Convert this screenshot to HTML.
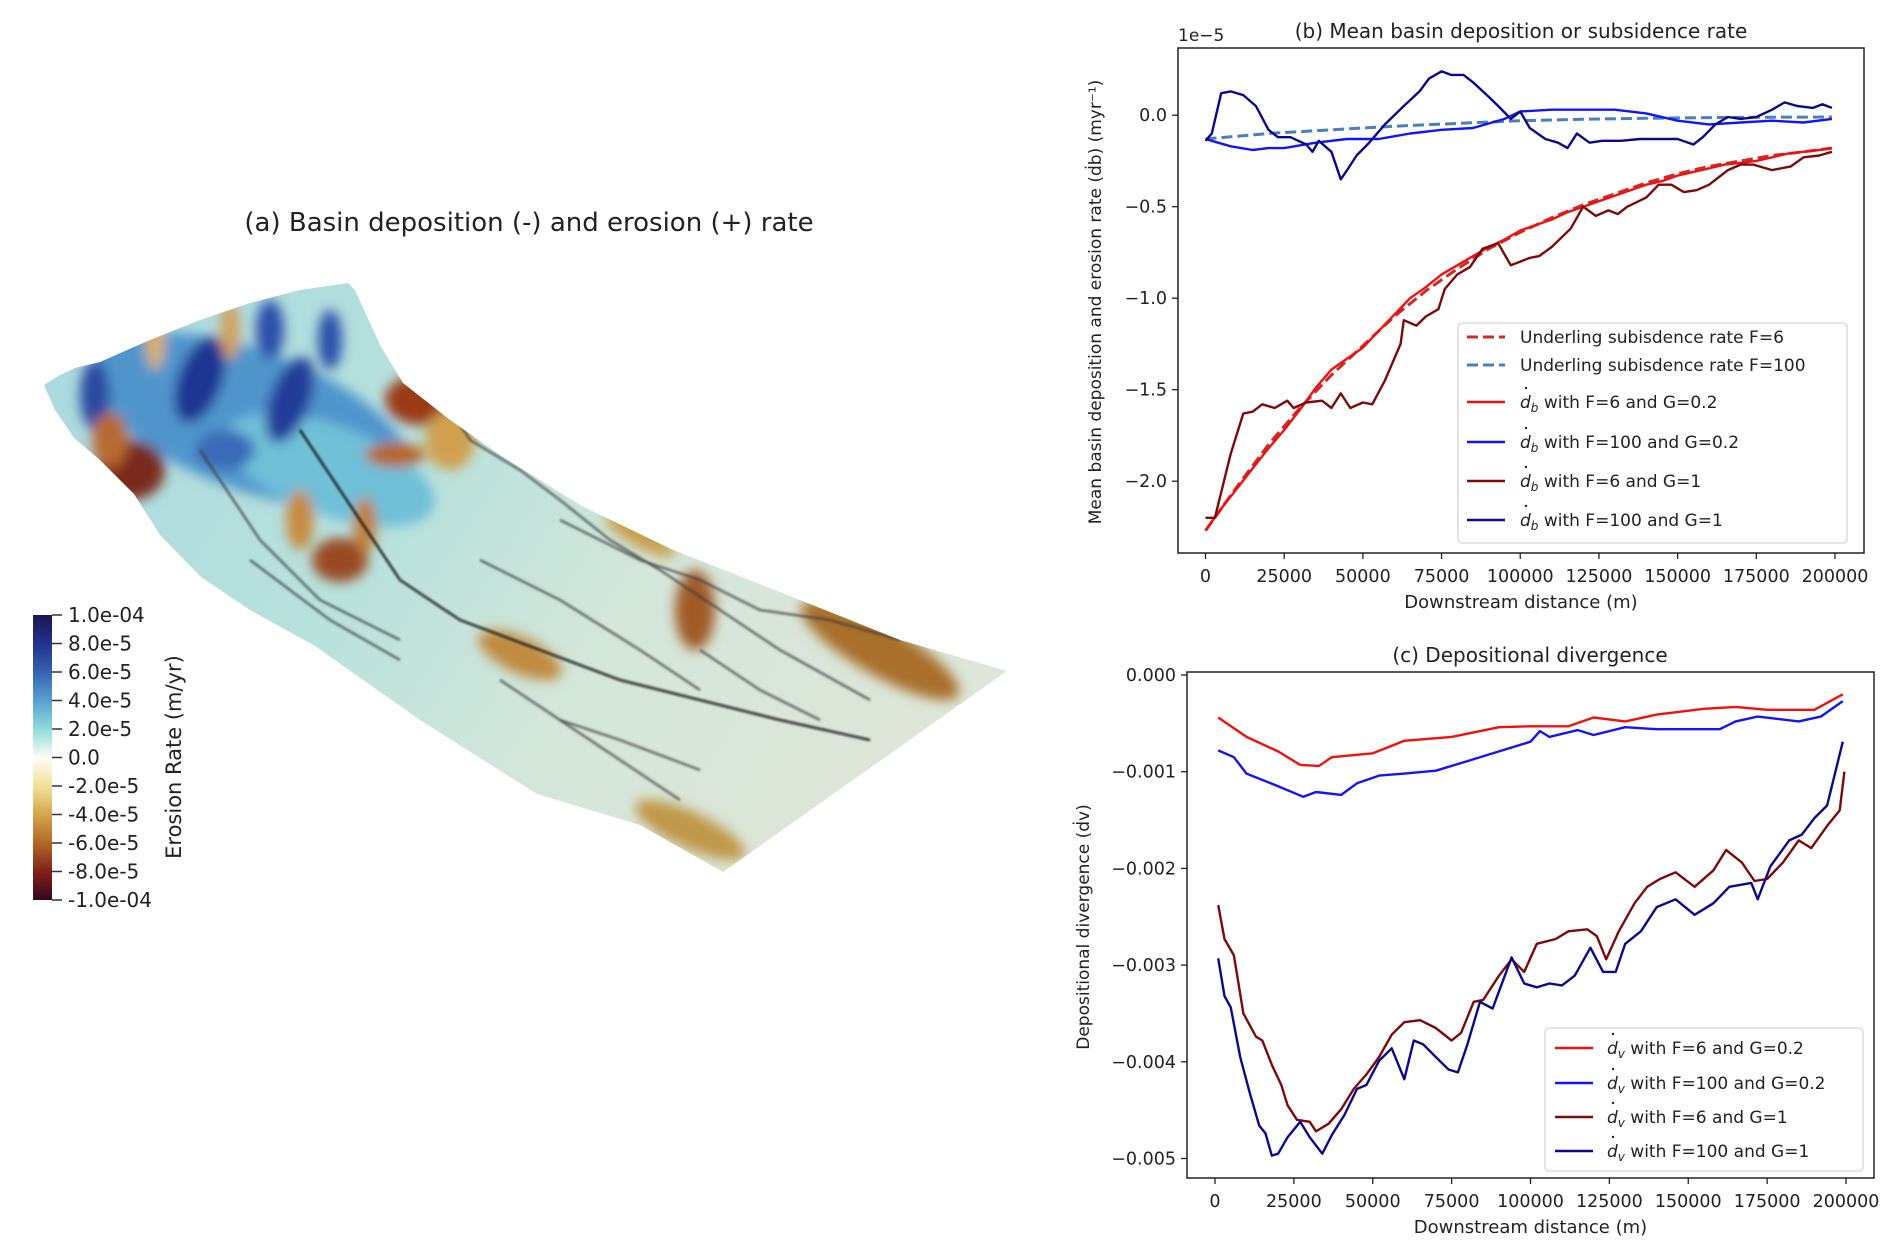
<!DOCTYPE html>
<html><head><meta charset="utf-8"><style>
html,body{margin:0;padding:0;background:#fff;}
svg{display:block;font-family:"DejaVu Sans","Liberation Sans",sans-serif;}
</style></head><body>
<svg id="fig" width="1892" height="1253" viewBox="0 0 1892 1253" xmlns="http://www.w3.org/2000/svg">
<defs>
<filter id="blur6" x="-50%" y="-50%" width="200%" height="200%"><feGaussianBlur stdDeviation="6"/></filter>
<filter id="blur2"><feGaussianBlur stdDeviation="1"/></filter>
<clipPath id="surfClip"><path id="surfPath" d="M44,385 L60,375 75,368 100,362 150,340 200,320 250,303 300,290 348,283 355,290 366,314 380,345 403,383 450,420 503,457 580,505 671,549 800,600 900,640 1007,671 723,872 640,825 537,794 420,720 315,646 250,610 201,577 160,535 134,494 100,460 74,438 55,410 Z"/></clipPath>
<linearGradient id="cbar" x1="0" y1="0" x2="0" y2="1">
<stop offset="0" stop-color="#1c1450"/><stop offset="0.1" stop-color="#23318f"/><stop offset="0.2" stop-color="#3562b0"/><stop offset="0.3" stop-color="#5b9fd0"/><stop offset="0.4" stop-color="#8fdcd8"/><stop offset="0.5" stop-color="#fdfdf6"/><stop offset="0.6" stop-color="#f0e29a"/><stop offset="0.7" stop-color="#d4a64a"/><stop offset="0.8" stop-color="#b06828"/><stop offset="0.9" stop-color="#822018"/><stop offset="1" stop-color="#35081a"/>
</linearGradient>
<linearGradient id="surfBase" x1="0" y1="0" x2="1" y2="0.4">
<stop offset="0" stop-color="#a9d8e0"/><stop offset="0.45" stop-color="#b8e2dc"/><stop offset="0.7" stop-color="#d3e6da"/><stop offset="1" stop-color="#dde6d8"/>
</linearGradient>
</defs>

<!-- Panel (a) -->
<text x="529" y="231" font-size="26" text-anchor="middle" fill="#222">(a) Basin deposition (-) and erosion (+) rate</text>
<g clip-path="url(#surfClip)">
<rect x="40" y="280" width="980" height="600" fill="url(#surfBase)"/>
<g filter="url(#blur6)">
<ellipse cx="250" cy="420" rx="170" ry="70" fill="#4f95cc" transform="rotate(20 250 420)"/>
<ellipse cx="330" cy="470" rx="110" ry="45" fill="#6fc0d8" transform="rotate(20 330 470)"/>
<ellipse cx="200" cy="380" rx="22" ry="45" fill="#1e3590" transform="rotate(20 200 380)"/>
<ellipse cx="290" cy="400" rx="20" ry="45" fill="#233c98" transform="rotate(20 290 400)"/>
<ellipse cx="95" cy="395" rx="15" ry="35" fill="#2a4aa0"/>
<ellipse cx="270" cy="330" rx="14" ry="30" fill="#2a50a8"/>
<ellipse cx="330" cy="340" rx="12" ry="30" fill="#2a50a8"/>
<ellipse cx="225" cy="450" rx="30" ry="20" fill="#3a6ab8"/>
<ellipse cx="130" cy="470" rx="35" ry="30" fill="#7a2a1a"/>
<ellipse cx="110" cy="440" rx="18" ry="28" fill="#b86a30"/>
<ellipse cx="155" cy="340" rx="10" ry="30" fill="#d8b070"/>
<ellipse cx="230" cy="330" rx="10" ry="30" fill="#d2a060"/>
<ellipse cx="420" cy="400" rx="35" ry="25" fill="#9a3a18"/>
<ellipse cx="450" cy="440" rx="25" ry="30" fill="#d0a050"/>
<ellipse cx="395" cy="455" rx="30" ry="12" fill="#b8641e"/>
<ellipse cx="340" cy="560" rx="28" ry="22" fill="#9a4a20"/>
<ellipse cx="300" cy="520" rx="14" ry="30" fill="#c88a40"/>
<ellipse cx="365" cy="525" rx="12" ry="28" fill="#c08040"/>
<ellipse cx="520" cy="655" rx="45" ry="18" fill="#c08a40" transform="rotate(25 520 655)"/>
<ellipse cx="695" cy="610" rx="20" ry="40" fill="#a05a28"/>
<ellipse cx="880" cy="650" rx="90" ry="25" fill="#a8702a" transform="rotate(30 880 650)"/>
<ellipse cx="690" cy="830" rx="60" ry="18" fill="#c09848" transform="rotate(25 690 830)"/>
<ellipse cx="640" cy="535" rx="40" ry="12" fill="#c8a050" transform="rotate(30 640 535)"/>
</g>
<g fill="none" stroke="#3a3a3a" stroke-width="2.5" stroke-opacity="0.7" filter="url(#blur2)">
<path d="M430,380 L470,440 520,470 560,500 610,540 660,570 720,610 780,650 870,700"/>
<path d="M300,430 L360,520 400,580 460,620 540,650 620,680 700,700 780,720 870,740" stroke="#111" stroke-opacity="0.85"/>
<path d="M560,520 L640,560 700,580 760,610 830,620 900,640"/>
<path d="M200,450 L260,540 320,600 400,640"/>
<path d="M480,560 L560,600 640,650 700,690"/>
<path d="M250,560 L330,620 400,660"/>
<path d="M500,680 L560,720 620,760 680,800"/>
<path d="M560,720 L620,740 700,770"/>
<path d="M700,650 L760,690 820,720"/>
</g>
</g>
<rect x="33" y="615" width="19" height="285" fill="url(#cbar)"/>
<g id="cbTicks" font-size="20" fill="#222"></g>
<text transform="translate(181,757) rotate(-90)" font-size="21" text-anchor="middle" fill="#222">Erosion Rate (m/yr)</text>

<g id="chartB"></g>
<g id="chartC"></g>
</svg>
<script>
const NS='http://www.w3.org/2000/svg';
const cbLabels=['1.0e-04','8.0e-5','6.0e-5','4.0e-5','2.0e-5','0.0','-2.0e-5','-4.0e-5','-6.0e-5','-8.0e-5','-1.0e-04'];
// chart b data (x in m, y in 1e-5 m/yr)
const bXTicks=[0,25000,50000,75000,100000,125000,150000,175000,200000];
const bYTicks=[0.0,-0.5,-1.0,-1.5,-2.0];
const bYTickLabels=['0.0','\u22120.5','\u22121.0','\u22121.5','\u22122.0'];
const bSubsF6=[[0,-2.27],[10000,-2.03],[20000,-1.8],[30000,-1.6],[40000,-1.42],[50000,-1.26],[60000,-1.1],[70000,-0.96],[80000,-0.84],[90000,-0.73],[100000,-0.64],[110000,-0.56],[120000,-0.49],[130000,-0.43],[140000,-0.37],[150000,-0.32],[160000,-0.28],[170000,-0.25],[180000,-0.22],[190000,-0.2],[199000,-0.18]];
const bSubsF100=[[0,-0.13],[20000,-0.1],[40000,-0.08],[60000,-0.06],[80000,-0.045],[100000,-0.03],[120000,-0.022],[140000,-0.017],[160000,-0.013],[180000,-0.011],[199000,-0.01]];
const bF6G02=[[0,-2.27],[5000,-2.15],[10000,-2.04],[15000,-1.93],[20000,-1.82],[25000,-1.72],[30000,-1.61],[35000,-1.49],[40000,-1.39],[45000,-1.33],[50000,-1.27],[55000,-1.18],[60000,-1.09],[65000,-1.0],[70000,-0.94],[75000,-0.87],[80000,-0.82],[85000,-0.77],[90000,-0.72],[95000,-0.68],[100000,-0.63],[105000,-0.6],[110000,-0.57],[115000,-0.53],[120000,-0.5],[125000,-0.47],[130000,-0.44],[135000,-0.41],[140000,-0.38],[145000,-0.36],[150000,-0.33],[155000,-0.31],[160000,-0.29],[165000,-0.27],[170000,-0.26],[175000,-0.25],[180000,-0.23],[185000,-0.21],[190000,-0.2],[195000,-0.19],[199000,-0.18]];
const bF100G02=[[0,-0.13],[4000,-0.15],[8000,-0.17],[15000,-0.19],[20000,-0.18],[25000,-0.18],[35000,-0.15],[45000,-0.13],[55000,-0.13],[65000,-0.1],[75000,-0.08],[85000,-0.07],[95000,-0.02],[100000,0.02],[110000,0.03],[120000,0.03],[130000,0.03],[140000,0.01],[150000,-0.03],[160000,-0.05],[170000,-0.04],[180000,-0.03],[190000,-0.04],[199000,-0.02]];
const bF6G1=[[0,-2.2],[3000,-2.2],[8000,-1.85],[12000,-1.63],[15000,-1.62],[18000,-1.58],[22000,-1.6],[26000,-1.56],[28000,-1.6],[32000,-1.57],[37000,-1.56],[40000,-1.6],[43000,-1.52],[46000,-1.6],[50000,-1.57],[53000,-1.58],[57000,-1.45],[62000,-1.25],[63000,-1.12],[67000,-1.15],[70000,-1.1],[74000,-1.06],[76000,-0.95],[80000,-0.87],[84000,-0.83],[88000,-0.73],[93000,-0.7],[97000,-0.82],[100000,-0.8],[103000,-0.78],[106000,-0.77],[110000,-0.72],[116000,-0.62],[120000,-0.5],[124000,-0.55],[128000,-0.52],[131000,-0.54],[134000,-0.5],[140000,-0.45],[144000,-0.38],[148000,-0.38],[152000,-0.42],[156000,-0.41],[160000,-0.38],[166000,-0.3],[170000,-0.27],[174000,-0.27],[180000,-0.3],[186000,-0.28],[190000,-0.23],[195000,-0.22],[199000,-0.2]];
const bF100G1=[[0,-0.14],[2000,-0.1],[5000,0.12],[8000,0.13],[12000,0.11],[16000,0.05],[20000,-0.08],[23000,-0.12],[27000,-0.12],[32000,-0.16],[34000,-0.2],[36000,-0.14],[40000,-0.2],[43000,-0.35],[45000,-0.3],[48000,-0.22],[52000,-0.15],[57000,-0.05],[63000,0.05],[68000,0.13],[71000,0.2],[75000,0.24],[78000,0.22],[82000,0.22],[85000,0.18],[90000,0.1],[93000,0.05],[97000,-0.02],[100000,0.02],[103000,-0.07],[108000,-0.13],[112000,-0.15],[115000,-0.18],[118000,-0.1],[122000,-0.15],[126000,-0.14],[132000,-0.14],[138000,-0.13],[145000,-0.13],[150000,-0.13],[155000,-0.16],[158000,-0.12],[162000,-0.05],[166000,-0.01],[170000,-0.02],[175000,-0.01],[180000,0.03],[184000,0.07],[188000,0.05],[193000,0.04],[196000,0.06],[199000,0.04]];
// chart c data
const cXTicks=[0,25000,50000,75000,100000,125000,150000,175000,200000];
const cYTicks=[0,-0.001,-0.002,-0.003,-0.004,-0.005];
const cYTickLabels=['0.000','\u22120.001','\u22120.002','\u22120.003','\u22120.004','\u22120.005'];
const cF6G02=[[1000,-0.00044],[10000,-0.00064],[20000,-0.00079],[27000,-0.00093],[33000,-0.00094],[37000,-0.00085],[50000,-0.00081],[60000,-0.00068],[75000,-0.00064],[90000,-0.00054],[100000,-0.00053],[112000,-0.00053],[120000,-0.00044],[130000,-0.00048],[140000,-0.00041],[155000,-0.00035],[165000,-0.00033],[175000,-0.00036],[190000,-0.00036],[199000,-0.0002]];
const cF100G02=[[1000,-0.00078],[6000,-0.00085],[10000,-0.00102],[20000,-0.00115],[28000,-0.00126],[32000,-0.00121],[40000,-0.00124],[45000,-0.00112],[52000,-0.00104],[60000,-0.00102],[70000,-0.00099],[80000,-0.00089],[90000,-0.00079],[100000,-0.00069],[103000,-0.00058],[106000,-0.00064],[115000,-0.00057],[120000,-0.00062],[130000,-0.00054],[140000,-0.00056],[150000,-0.00056],[160000,-0.00056],[165000,-0.00048],[172000,-0.00043],[185000,-0.00048],[192000,-0.00043],[199000,-0.00027]];
const cF6G1=[[1000,-0.00238],[3000,-0.00273],[6000,-0.0029],[9000,-0.0035],[13000,-0.00374],[15000,-0.00378],[18000,-0.00403],[21000,-0.00424],[23000,-0.00445],[26000,-0.0046],[30000,-0.00462],[32000,-0.00472],[36000,-0.00464],[40000,-0.00449],[44000,-0.00428],[48000,-0.00413],[52000,-0.00395],[56000,-0.00372],[60000,-0.00359],[65000,-0.00357],[70000,-0.00365],[75000,-0.00378],[78000,-0.0037],[82000,-0.00338],[85000,-0.00336],[90000,-0.00311],[94000,-0.00294],[98000,-0.00307],[102000,-0.00278],[108000,-0.00273],[112000,-0.00265],[118000,-0.00263],[121000,-0.0027],[124000,-0.00294],[128000,-0.00265],[133000,-0.00236],[137000,-0.00219],[141000,-0.00211],[146000,-0.00204],[152000,-0.00219],[158000,-0.00202],[162000,-0.00181],[167000,-0.00194],[171000,-0.00213],[175000,-0.00211],[180000,-0.00194],[185000,-0.00171],[189000,-0.00179],[194000,-0.00156],[198000,-0.0014],[199500,-0.001]];
const cF100G1=[[1000,-0.00293],[3000,-0.00332],[5000,-0.00344],[8000,-0.00395],[11000,-0.00432],[14000,-0.00466],[16000,-0.00474],[18000,-0.00497],[20000,-0.00495],[23000,-0.00478],[27000,-0.00462],[30000,-0.00478],[34000,-0.00495],[37000,-0.00476],[41000,-0.00455],[45000,-0.00428],[48000,-0.00424],[52000,-0.00399],[56000,-0.00386],[60000,-0.00418],[63000,-0.00378],[66000,-0.00382],[70000,-0.00395],[74000,-0.00408],[77000,-0.00411],[80000,-0.00382],[84000,-0.00338],[88000,-0.00345],[94000,-0.00292],[98000,-0.00319],[102000,-0.00323],[106000,-0.00319],[110000,-0.00321],[114000,-0.00311],[119000,-0.00282],[123000,-0.00307],[127000,-0.00307],[130000,-0.00278],[135000,-0.00265],[140000,-0.0024],[146000,-0.00232],[152000,-0.00248],[158000,-0.00236],[163000,-0.00219],[170000,-0.00215],[172000,-0.00232],[176000,-0.00198],[182000,-0.00171],[186000,-0.00165],[190000,-0.00148],[194000,-0.00135],[199000,-0.00069]];

function mk(tag,attrs,parent,text){const e=document.createElementNS(NS,tag);for(const k in attrs)e.setAttribute(k,attrs[k]);if(text!==undefined)e.textContent=text;parent.appendChild(e);return e;}

const cbG=document.getElementById('cbTicks');
cbLabels.forEach((l,i)=>{const y=615+i*28.5;
 const t=mk('line',{x1:52,x2:62,y1:y,y2:y,stroke:'#333','stroke-width':1.5},cbG);
 
 
 const tx=mk('text',{x:68,y:y+7},cbG,l);
 
 
});

function drawChart(g,cfg){
 const xs=v=>cfg.x0+(v/200000)*(cfg.x1-cfg.x0);
 const ys=v=>cfg.yz-v*cfg.yk;
 const clipId=cfg.id+'clip';
 const defs=mk('defs',{},g);const cp=mk('clipPath',{id:clipId},defs);
 mk('rect',{x:cfg.L,y:cfg.T,width:cfg.R-cfg.L,height:cfg.B-cfg.T},cp);
 const lg=mk('g',{'clip-path':'url(#'+clipId+')'},g);
 cfg.series.forEach(s=>{
  const d=s.data.map((p,i)=>(i?'L':'M')+xs(p[0]).toFixed(1)+','+ys(p[1]).toFixed(1)).join(' ');
  const p=mk('path',{d:d,fill:'none',stroke:s.color,'stroke-width':s.dash?3:2.4,'stroke-dasharray':s.dash?'11,5':'none','stroke-linejoin':'round'},lg);
  
  
 });
 const fr=mk('rect',{x:cfg.L,y:cfg.T,width:cfg.R-cfg.L,height:cfg.B-cfg.T,fill:'none',stroke:'#222','stroke-width':1.5},g);
 
 
 cfg.xt.forEach(v=>{const x=xs(v);
  mk('line',{x1:x,x2:x,y1:cfg.B,y2:cfg.B+6,stroke:'#222','stroke-width':1.3},g);
  const t=mk('text',{x:x,y:cfg.B+29,'font-size':17.5,'text-anchor':'middle',fill:'#222'},g,String(v));
  
  
 });
 cfg.yt.forEach((v,i)=>{const y=ys(v);
  mk('line',{x1:cfg.L-6,x2:cfg.L,y1:y,y2:y,stroke:'#222','stroke-width':1.3},g);
  const t=mk('text',{x:cfg.L-11,y:y+6,'font-size':17.5,'text-anchor':'end',fill:'#222'},g,cfg.ytl[i]);
  
  
 });
 const xl=mk('text',{x:(cfg.L+cfg.R)/2,y:cfg.B+55,'font-size':18,'text-anchor':'middle',fill:'#222'},g,'Downstream distance (m)');
 
 
 const ti=mk('text',{x:cfg.titleX,y:cfg.T-10,'font-size':20,'text-anchor':'middle',fill:'#222'},g,cfg.title);
 
 
 const lgd=mk('rect',{x:cfg.lg.x,y:cfg.lg.y,width:cfg.lg.w,height:cfg.lg.h,rx:4,fill:'#fff','fill-opacity':0.85,stroke:'#d6d6d6','stroke-width':1.3},g);
 
 
 cfg.series.forEach((s,i)=>{const y=cfg.lg.rows[i];
  mk('line',{x1:cfg.lg.hx,x2:cfg.lg.hx+38,y1:y,y2:y,stroke:s.color,'stroke-width':s.dash?3:2.4,'stroke-dasharray':s.dash?'11,5':'none'},g);
  const t=mk('text',{x:cfg.lg.tx,y:y+6,'font-size':17,fill:'#222'},g);
  
  
  if(s.sym){
   mk('tspan',{'font-style':'italic'},t,'d');
   mk('tspan',{'font-style':'italic','font-size':12,dy:4},t,s.sym);
   mk('tspan',{dy:-4},t,' '+s.label);
   mk('circle',{cx:cfg.lg.tx+6,cy:y-14,r:1.2,fill:'#222'},g);
  } else t.textContent=s.label;
 });
}

drawChart(document.getElementById('chartB'),{id:'b',L:1178,R:1864,T:48,B:553,x0:1205.5,x1:1835,yz:115.2,yk:183,
 xt:bXTicks,yt:bYTicks,ytl:bYTickLabels,title:'(b) Mean basin deposition or subsidence rate',titleX:1521,
 lg:{x:1458,y:323,w:389,h:220,hx:1467,tx:1520,rows:[337,365,402,442,481,520]},
 series:[
  {name:'subsidence-f6-dashed',data:bSubsF6,color:'#cc2b2b',dash:true,label:'Underling subisdence rate F=6'},
  {name:'subsidence-f100-dashed',data:bSubsF100,color:'#4a7fb8',dash:true,label:'Underling subisdence rate F=100'},
  {name:'db-f6-g02',data:bF6G02,color:'#f01010',sym:'b',label:'with F=6 and G=0.2'},
  {name:'db-f100-g02',data:bF100G02,color:'#1414f5',sym:'b',label:'with F=100 and G=0.2'},
  {name:'db-f6-g1',data:bF6G1,color:'#7d0a0a',sym:'b',label:'with F=6 and G=1'},
  {name:'db-f100-g1',data:bF100G1,color:'#0a0a8a',sym:'b',label:'with F=100 and G=1'}
 ]});
drawChart(document.getElementById('chartC'),{id:'c',L:1187,R:1874,T:672,B:1178,x0:1215,x1:1846,yz:675,yk:96700,
 xt:cXTicks,yt:cYTicks,ytl:cYTickLabels,title:'(c) Depositional divergence',titleX:1530,
 lg:{x:1545,y:1028,w:318,h:143,hx:1555,tx:1607,rows:[1048,1083,1117,1151]},
 series:[
  {name:'dv-f6-g02',data:cF6G02,color:'#f01010',sym:'v',label:'with F=6 and G=0.2'},
  {name:'dv-f100-g02',data:cF100G02,color:'#1414f5',sym:'v',label:'with F=100 and G=0.2'},
  {name:'dv-f6-g1',data:cF6G1,color:'#7d0a0a',sym:'v',label:'with F=6 and G=1'},
  {name:'dv-f100-g1',data:cF100G1,color:'#0a0a8a',sym:'v',label:'with F=100 and G=1'}
 ]});

const gB=document.getElementById('chartB');
const off=mk('text',{x:1178,y:41,'font-size':17,fill:'#222'},gB,'1e\u22125');


const ylb=mk('text',{transform:'translate(1101,302) rotate(-90)','font-size':17,'text-anchor':'middle',fill:'#222'},gB,'Mean basin deposition and erosion rate (\u1E0Bb) (myr\u207B\u00B9)');


const gC=document.getElementById('chartC');
const ylc=mk('text',{transform:'translate(1089,927) rotate(-90)','font-size':17,'text-anchor':'middle',fill:'#222'},gC,'Depositional divergence (\u1E0Bv)');


</script>
</body></html>
